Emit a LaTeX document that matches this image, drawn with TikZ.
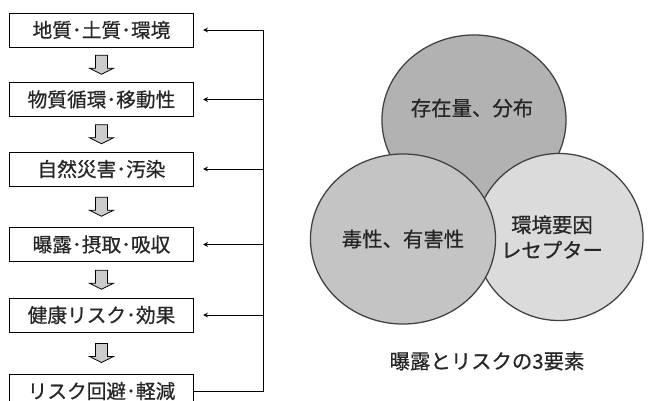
\documentclass[tikz,border=0pt]{standalone}
\usepackage{fontspec}
\setmainfont{Noto Sans CJK JP}[FakeBold=0.6,AutoFakeBold=0.6]
\usetikzlibrary{shapes.geometric,calc}

\definecolor{topgray}{gray}{0.70}
\definecolor{leftgray}{gray}{0.77}
\definecolor{rightgray}{gray}{0.86}
\definecolor{arrgray}{gray}{0.80}

\tikzset{
	box/.style={draw,line width=0.7pt,minimum width=4.6cm,minimum height=0.85cm,inner sep=0pt,font=\fontsize{14}{17}\selectfont},
	blob/.style={ellipse,draw=black!75,line width=0.9pt,inner sep=0pt},
	blobtext/.style={font=\fontsize{14.5}{18}\selectfont,align=center},
	downarr/.pic={\draw[line width=0.5pt,fill=arrgray] (-6,-9.5) -- (6,-9.5) -- (6,3.5) -- (12,3.5) -- (0,9.5) -- (-12,3.5) -- (-6,3.5) -- cycle;}
}

\begin{document}
\begin{tikzpicture}[>=stealth,x=0.025cm,y=-0.025cm,text=black!85]
	\useasboundingbox (0,0) rectangle (649,400);

	%flow boxes
	\node[box] (geo)	at (101.5,30)	{地質･土質･環境};
	\node[box] (cycle)	at (101.5,99.5)	{物質循環･移動性};
	\node[box] (hazard)	at (101.5,169)	{自然災害･汚染};
	\node[box] (expo)	at (101.5,244.5)	{曝露･摂取･吸収};
	\node[box] (health)	at (101.5,315)	{健康リスク･効果};
	\node[box] (avoid)	at (101.5,391)	{リスク回避･軽減};

	%down arrows
	\foreach \a/\b in {geo/cycle,cycle/hazard,hazard/expo,expo/health,health/avoid}
	\path ($(\a.south)!0.5!(\b.north)$) pic {downarr};

	%feedback rail
	\coordinate (rail) at (263,30);
	\draw[line width=0.6pt] (avoid.east) -| (rail);
	\foreach \n in {geo,cycle,hazard,expo,health}
	\draw[->,line width=0.6pt] (\n.east -| rail) -- ([xshift=0.225cm]\n.east);

	%three circles
	\node[blob,fill=topgray,minimum width=4.6cm,minimum height=4.25cm] (amount) at (474,120) {};
	\node[blob,fill=rightgray,minimum width=4.2cm,minimum height=4.175cm] (envir) at (559,237) {};
	\node[blob,fill=leftgray,minimum width=4.625cm,minimum height=4.25cm,blobtext] (toxic) at (403,239) {毒性、有害性};
	\node[blobtext] (amountlbl) at (472,108) {存在量、分布};
	\node[blobtext] (envirlbl) at (552,237) {環境要因\\レセプター};

	%caption
	\node[blobtext] (caption) at (487,361) {曝露とリスクの3要素};
\end{tikzpicture}
\end{document}
